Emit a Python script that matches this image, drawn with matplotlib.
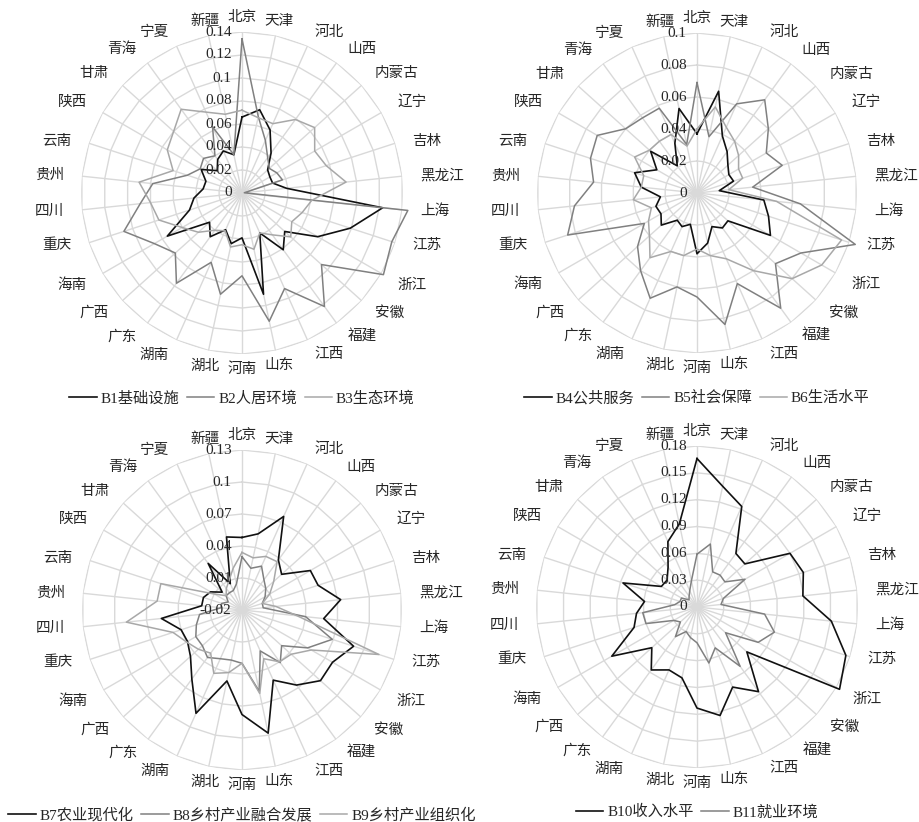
import matplotlib
matplotlib.use('Agg')
import matplotlib.pyplot as plt
import numpy as np

plt.rcParams['font.family'] = ['Liberation Serif', 'Noto Sans CJK SC']

provinces = ['北京', '天津', '河北', '山西', '内蒙古', '辽宁', '吉林', '黑龙江', '上海', '江苏',
             '浙江', '安徽', '福建', '江西', '山东', '河南', '湖北', '湖南', '广东', '广西',
             '海南', '重庆', '四川', '贵州', '云南', '陕西', '甘肃', '青海', '宁夏', '新疆']

# 基础设施 / 人居环境 / 生态环境
b1 = [0.066, 0.074, 0.060, 0.043, 0.030, 0.028, 0.028, 0.039, 0.123, 0.099,
      0.076, 0.050, 0.061, 0.038, 0.090, 0.039, 0.045, 0.035, 0.047, 0.038,
      0.075, 0.048, 0.042, 0.034, 0.033, 0.041, 0.029, 0.036, 0.040, 0.034]
b2 = [0.134, 0.068, 0.050, 0.038, 0.032, 0.035, 0.037, 0.002, 0.145, 0.137,
      0.142, 0.093, 0.122, 0.091, 0.114, 0.072, 0.090, 0.066, 0.097, 0.078,
      0.088, 0.108, 0.089, 0.078, 0.050, 0.042, 0.045, 0.040, 0.063, 0.034]
b3 = [0.072, 0.067, 0.066, 0.079, 0.085, 0.073, 0.077, 0.091, 0.061, 0.055,
      0.050, 0.057, 0.045, 0.038, 0.050, 0.045, 0.048, 0.036, 0.040, 0.051,
      0.060, 0.076, 0.080, 0.090, 0.063, 0.075, 0.080, 0.090, 0.077, 0.070]

# 公共服务 / 社会保障 / 生活水平
b4 = [0.037, 0.065, 0.039, 0.032, 0.026, 0.023, 0.024, 0.014, 0.042, 0.047,
      0.053, 0.026, 0.027, 0.023, 0.032, 0.038, 0.020, 0.023, 0.021, 0.030,
      0.026, 0.027, 0.023, 0.035, 0.041, 0.029, 0.039, 0.021, 0.034, 0.054]
b5 = [0.069, 0.036, 0.061, 0.072, 0.060, 0.050, 0.056, 0.035, 0.065, 0.104,
      0.075, 0.066, 0.089, 0.062, 0.084, 0.065, 0.060, 0.072, 0.060, 0.050,
      0.038, 0.085, 0.077, 0.065, 0.070, 0.072, 0.060, 0.058, 0.058, 0.031]
b6 = [0.040, 0.055, 0.045, 0.040, 0.035, 0.030, 0.030, 0.020, 0.050, 0.095,
      0.090, 0.080, 0.060, 0.045, 0.040, 0.035, 0.040, 0.040, 0.050, 0.040,
      0.035, 0.030, 0.040, 0.035, 0.035, 0.045, 0.040, 0.040, 0.040, 0.030]

# 农业现代化 / 乡村产业融合发展 / 乡村产业组织化
b7 = [0.048, 0.053, 0.076, 0.038, 0.030, 0.054, 0.055, 0.073, 0.057, 0.090,
      0.078, 0.079, 0.067, 0.052, 0.098, 0.078, 0.048, 0.086, 0.060, 0.045,
      0.039, 0.040, 0.056, 0.018, 0.018, 0.014, 0.005, 0.034, 0.007, 0.050]
b8 = [0.030, 0.020, 0.025, 0.015, 0.010, 0.005, 0.000, 0.000, 0.040, 0.069,
      0.051, 0.030, 0.041, 0.022, 0.058, 0.030, 0.028, 0.030, 0.035, 0.030,
      0.030, 0.025, 0.020, 0.000, 0.000, -0.005, 0.000, 0.000, 0.000, 0.005]
b9 = [0.034, 0.030, 0.035, 0.036, 0.020, 0.010, 0.000, 0.012, 0.032, 0.115,
      0.055, 0.042, 0.040, 0.030, 0.060, 0.030, 0.040, 0.045, 0.030, 0.035,
      0.040, 0.048, 0.089, 0.060, 0.060, 0.010, 0.000, 0.005, 0.010, 0.020]

# 收入水平 / 就业环境
b10 = [0.166, 0.138, 0.123, 0.074, 0.072, 0.120, 0.125, 0.119, 0.151, 0.175,
       0.184, 0.075, 0.117, 0.098, 0.124, 0.113, 0.081, 0.077, 0.087, 0.068,
       0.110, 0.074, 0.068, 0.059, 0.087, 0.046, 0.045, 0.055, 0.080, 0.095]
b11 = [0.059, 0.072, 0.043, 0.044, 0.042, 0.062, 0.031, 0.027, 0.076, 0.091,
       0.079, 0.043, 0.082, 0.050, 0.064, 0.040, 0.035, 0.030, 0.041, 0.025,
       0.030, 0.060, 0.061, 0.025, 0.020, 0.020, 0.012, 0.015, 0.020, 0.030]

LINE_COLORS = ['#111111', '#808080', '#a8a8a8']
LINE_WIDTHS = [1.2, 1.1, 1.1]
GRID = '#d9d9d9'
TEXT = '#262626'

fig = plt.figure(figsize=(9.2, 8.22), dpi=100)
W, H = 920, 822


def radar(cx, cy, R, series, ticks, tick_text, legend_y):
    ax = fig.add_axes([(cx - R) / W, 1 - (cy + R) / H, 2 * R / W, 2 * R / H],
                      projection='polar')
    ax.set_theta_zero_location('N')
    ax.set_theta_direction(-1)
    ax.set_ylim(ticks[0], ticks[-1])
    ax.axis('off')

    n = len(provinces)
    theta = np.arange(n) * 2 * np.pi / n
    closed = np.append(theta, theta[0])

    # polygon rings and spokes
    for v in ticks[1:]:
        ax.plot(closed, [v] * (n + 1), color=GRID, lw=1.0, zorder=1)
    for t in theta:
        ax.plot([t, t], [ticks[0], ticks[-1]], color=GRID, lw=1.0, zorder=1)

    for (name, vals), col, lw in zip(series, LINE_COLORS, LINE_WIDTHS):
        ax.plot(closed, np.append(vals, vals[0]), color=col, lw=lw,
                clip_on=False, zorder=3, label=name)

    for v, s in zip(ticks, tick_text):
        ax.annotate(s, xy=(0, v), xytext=(-7.5, 0), textcoords='offset points',
                    ha='right', va='center', fontsize=11, color=TEXT, zorder=5,
                    annotation_clip=False)

    for t, name in zip(theta, provinces):
        s, c = np.sin(t), np.cos(t)
        ha = 'left' if s > 0.3 else ('right' if s < -0.3 else 'center')
        va = 'bottom' if c > 0.4 else ('top' if c < -0.4 else 'center')
        ax.annotate(name, xy=(t, ticks[-1]), xytext=(13 * s, 5.8 * c),
                    textcoords='offset points', ha=ha, va=va, fontsize=10.5,
                    color=TEXT, family=['Noto Sans CJK SC'], annotation_clip=False)

    handles, labels = ax.get_legend_handles_labels()
    fig.legend(handles, labels, loc='center', bbox_to_anchor=(cx / W, 1 - legend_y / H),
               ncol=len(series), frameon=False, fontsize=11, handlelength=1.8,
               handletextpad=0.25, columnspacing=0.5, labelcolor=TEXT)


radar(242, 193, 161, [('B1基础设施', b1), ('B2人居环境', b2), ('B3生态环境', b3)],
      [0, 0.02, 0.04, 0.06, 0.08, 0.10, 0.12, 0.14],
      ['0', '0.02', '0.04', '0.06', '0.08', '0.1', '0.12', '0.14'], 398)
radar(697, 193, 160, [('B4公共服务', b4), ('B5社会保障', b5), ('B6生活水平', b6)],
      [0, 0.02, 0.04, 0.06, 0.08, 0.10],
      ['0', '0.02', '0.04', '0.06', '0.08', '0.1'], 398)
radar(242, 610, 160, [('B7农业现代化', b7), ('B8乡村产业融合发展', b8), ('B9乡村产业组织化', b9)],
      [-0.02, 0.01, 0.04, 0.07, 0.10, 0.13],
      ['-0.02', '0.01', '0.04', '0.07', '0.1', '0.13'], 815)
radar(697, 607, 161, [('B10收入水平', b10), ('B11就业环境', b11)],
      [0, 0.03, 0.06, 0.09, 0.12, 0.15, 0.18],
      ['0', '0.03', '0.06', '0.09', '0.12', '0.15', '0.18'], 812)

fig.savefig('out.png', dpi=100, facecolor='white')
